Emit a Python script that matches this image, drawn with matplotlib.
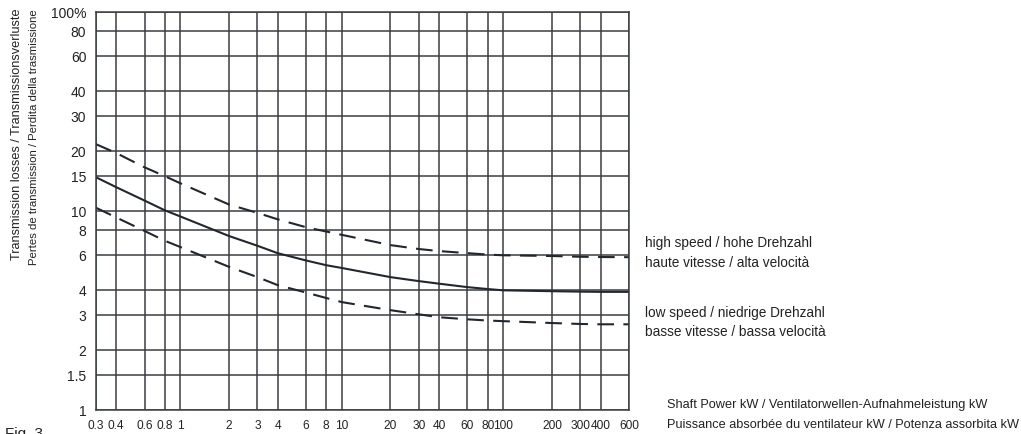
import matplotlib
matplotlib.use('Agg')
import matplotlib.pyplot as plt
from matplotlib.ticker import FixedLocator, NullLocator

plt.rcParams['font.family'] = ['Liberation Sans', 'DejaVu Sans']

# Shaft power (kW) ticks / curve sample points
power = [0.3, 0.4, 0.6, 0.8, 1, 2, 3, 4, 6, 8, 10, 20, 30, 40, 60, 80, 100, 200, 300, 400, 600]
x_labels = ['0.3', '0.4', '0.6', '0.8', '1', '2', '3', '4', '6', '8', '10',
            '20', '30', '40', '60', '80', '100', '200', '300', '400', '600']

# Transmission loss in %
loss_upper = [21.7, 19.6, 16.6, 15.0, 13.8, 10.8, 9.8, 9.1, 8.3, 7.9, 7.6,
              6.75, 6.45, 6.3, 6.15, 6.05, 6.0, 5.95, 5.9, 5.88, 5.87]
loss_mid = [14.8, 13.2, 11.3, 10.1, 9.4, 7.5, 6.7, 6.15, 5.65, 5.35, 5.18,
            4.66, 4.45, 4.32, 4.15, 4.06, 4.0, 3.96, 3.94, 3.93, 3.93]
loss_lower = [10.4, 9.3, 7.95, 7.1, 6.6, 5.25, 4.66, 4.25, 3.9, 3.66, 3.49,
              3.18, 3.03, 2.93, 2.86, 2.82, 2.8, 2.74, 2.71, 2.7, 2.7]

y_ticks = [1, 1.5, 2, 3, 4, 6, 8, 10, 15, 20, 30, 40, 60, 80, 100]
y_labels = ['1', '1.5', '2', '3', '4', '6', '8', '10', '15', '20', '30', '40', '60', '80', '100%']

grid_col = '#3a3d42'
line_col = '#22272e'
txt_col = '#222222'
fs = 9.2

fig = plt.figure(figsize=(10.21, 4.34), dpi=100)
ax = fig.add_axes([0.094, 0.055, 0.522, 0.917])

ax.set_xscale('log')
ax.set_yscale('log')
ax.set_xlim(0.3, 600)
ax.set_ylim(1, 100)

ax.plot(power, loss_upper, color=line_col, lw=1.5, dashes=(8, 4.5))
ax.plot(power, loss_mid, color=line_col, lw=1.5)
ax.plot(power, loss_lower, color=line_col, lw=1.5, dashes=(8, 4.5))

ax.xaxis.set_major_locator(FixedLocator(power))
ax.xaxis.set_minor_locator(NullLocator())
ax.set_xticklabels(x_labels)
ax.yaxis.set_major_locator(FixedLocator(y_ticks))
ax.yaxis.set_minor_locator(NullLocator())
ax.set_yticklabels(y_labels)

ax.grid(True, which='major', color=grid_col, lw=1.1)
ax.set_axisbelow(True)
ax.tick_params(axis='y', length=0, pad=7, labelsize=10, colors=txt_col)
ax.tick_params(axis='x', length=0, pad=7, labelsize=8.6, colors=txt_col)
for s in ax.spines.values():
    s.set_color(grid_col)
    s.set_linewidth(1.1)

# rotated y-axis title, two lines
fig.text(0.017, 0.691, 'Transmission losses / Transmissionsverluste',
         rotation=90, ha='center', va='center', fontsize=fs, color=txt_col)
fig.text(0.033, 0.683, 'Pertes de transmission / Perdita della trasmissione',
         rotation=90, ha='center', va='center', fontsize=8.2, color=txt_col)

# curve captions
fig.text(0.632, 0.44, 'high speed / hohe Drehzahl', fontsize=fs + 0.6, va='center', color=txt_col)
fig.text(0.632, 0.394, 'haute vitesse / alta velocità', fontsize=fs + 0.6, va='center', color=txt_col)
fig.text(0.632, 0.278, 'low speed / niedrige Drehzahl', fontsize=fs + 0.6, va='center', color=txt_col)
fig.text(0.632, 0.235, 'basse vitesse / bassa velocità', fontsize=fs + 0.6, va='center', color=txt_col)

# x-axis title
fig.text(0.653, 0.067, 'Shaft Power kW / Ventilatorwellen-Aufnahmeleistung kW',
         fontsize=fs, va='center', color=txt_col)
fig.text(0.653, 0.021, 'Puissance absorbée du ventilateur kW / Potenza assorbita kW',
         fontsize=fs, va='center', color=txt_col)

fig.text(0.005, 0.016, 'Fig. 3', fontsize=11, va='top', color=txt_col)

fig.savefig('out.png', dpi=100)
